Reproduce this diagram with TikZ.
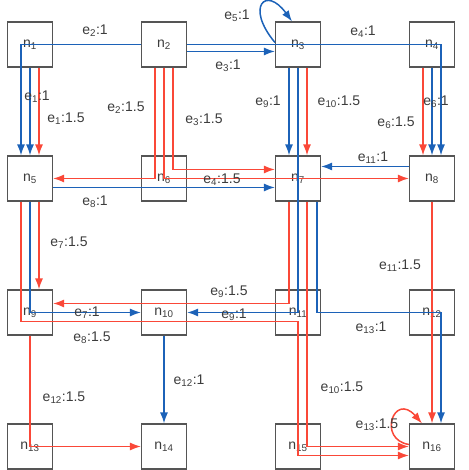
\documentclass[tikz,border=0pt]{standalone}
\usepackage{fontspec}
\setmainfont{Liberation Sans}
\usetikzlibrary{arrows.meta,calc}
\definecolor{linkblue}{RGB}{28,98,184}
\definecolor{linkred}{RGB}{250,72,56}
\definecolor{boxgray}{RGB}{85,85,85}
\definecolor{txtgray}{RGB}{60,60,60}

\begin{document}
\begin{tikzpicture}[x=1pt, y=1pt,
  tile/.style={draw=boxgray, line width=1.1pt, minimum size=45pt, inner sep=0pt,
    text=txtgray, font=\fontsize{14}{16}\selectfont},
  wlbl/.style={text=txtgray, font=\fontsize{14}{16}\selectfont, inner sep=0pt},
  bl/.style={draw=linkblue, line width=1.5pt, -{Latex[length=11pt,width=8pt]}},
  rd/.style={draw=linkred, line width=1.5pt, -{Latex[length=11pt,width=8pt]}}]
\useasboundingbox (0,0) rectangle (468,470);
% Mesh 4x4
\foreach \r in {0,...,3}{
  \foreach \c in {0,...,3}{
    \pgfmathtruncatemacro{\k}{4*\r+\c+1}
    \node[tile] (n\k) at ({30+134*\c},{425.5-134*\r}) {n\textsubscript{\k}};
  }
}
% Percorsi peso 1.5
\draw[rd] ([xshift=9pt]n1.south) -- ([xshift=9pt]n5.north);
\draw[rd] ([xshift=-9pt]n2.south) |- (n5.east);
\draw[rd] ([xshift=9pt]n2.south) |- ([yshift=9pt]n7.west);
\draw[rd] (n2.south) |- (n8.west);
\draw[rd] ([xshift=-9pt]n4.south) -- ([xshift=-9pt]n8.north);
\draw[rd] ([xshift=9pt]n5.south) -- ([xshift=9pt]n9.north);
\draw[rd] ([xshift=-9pt]n5.south) |- ([yshift=-9pt]n11.center) |- ([yshift=-9pt]n16.west);
\draw[rd] ([xshift=-9pt]n7.south) |- ([yshift=9pt]n9.east);
\draw[rd] ([xshift=9pt]n3.south) -- ([xshift=9pt]n7.north);
\draw[rd] ([xshift=9pt]n7.south) |- (n16.west);
\draw[rd] (n8.south) -- (n16.north);
\draw[rd] (n9.south) |- (n14.west);
\draw[rd] ([yshift=2pt]n16.west) .. controls +(-32,5) and +(-28,32) .. ([xshift=-10pt]n16.north);
% Percorsi peso 1
\draw[bl] (n1.south) -- (n5.north);
\draw[bl] (n2.west) -| ([xshift=-9pt]n5.north);
\draw[bl] ([yshift=-7pt]n2.east) -- ([yshift=-7pt]n3.west);
\draw[bl] (n2.east) -| ([xshift=9pt]n8.north);
\draw[bl] ([yshift=2pt]n3.west) .. controls +(-30,36) and +(-26,36) .. ([xshift=-6pt]n3.north);
\draw[bl] (n4.south) -- (n8.north);
\draw[bl] (n5.south) |- (n10.west);
\draw[bl] ([yshift=-9pt]n5.east) -- ([yshift=-9pt]n7.west);
\draw[bl] ([xshift=-9pt]n3.south) -- ([xshift=-9pt]n7.north);
\draw[bl] (n3.south) |- (n10.east);
\draw[bl] ([yshift=12pt]n8.west) -- ([yshift=12pt]n7.east);
\draw[bl] (n10.south) -- (n14.north);
\draw[bl] ([xshift=19pt]n7.south) |- ([xshift=9pt]n12.center) -- ([xshift=9pt]n16.north);
% Etichette
\foreach \nm/\x/\y/\t in {
  e2b/95/439/{e\textsubscript{2}:1}, e5b/237/454/{e\textsubscript{5}:1},
  e3b/228/404/{e\textsubscript{3}:1}, e4b/363/438/{e\textsubscript{4}:1},
  e1b/37/373/{e\textsubscript{1}:1}, e1r/66/351/{e\textsubscript{1}:1.5},
  e2r/126/362/{e\textsubscript{2}:1.5}, e3r/204/350/{e\textsubscript{3}:1.5},
  e9b/268/368/{e\textsubscript{9}:1}, e10r/339/368/{e\textsubscript{10}:1.5},
  e6b/436/368/{e\textsubscript{6}:1}, e6r/396/347/{e\textsubscript{6}:1.5},
  e11b/373/312/{e\textsubscript{11}:1}, e8b/95/268/{e\textsubscript{8}:1},
  e4r/222/290/{e\textsubscript{4}:1.5}, e7r/69/227/{e\textsubscript{7}:1.5},
  e11r/400/204/{e\textsubscript{11}:1.5}, e9r/229/178/{e\textsubscript{9}:1.5},
  e9bb/234/155/{e\textsubscript{9}:1}, e7b/87/157/{e\textsubscript{7}:1},
  e8r/92/132/{e\textsubscript{8}:1.5}, e13b/371/142/{e\textsubscript{13}:1},
  e12b/189/89/{e\textsubscript{12}:1}, e12r/64/72/{e\textsubscript{12}:1.5},
  e10rr/342/82/{e\textsubscript{10}:1.5}, e13r/377/45/{e\textsubscript{13}:1.5}}{
  \node[wlbl] (\nm) at (\x,\y) {\t};
}
\end{tikzpicture}
\end{document}
